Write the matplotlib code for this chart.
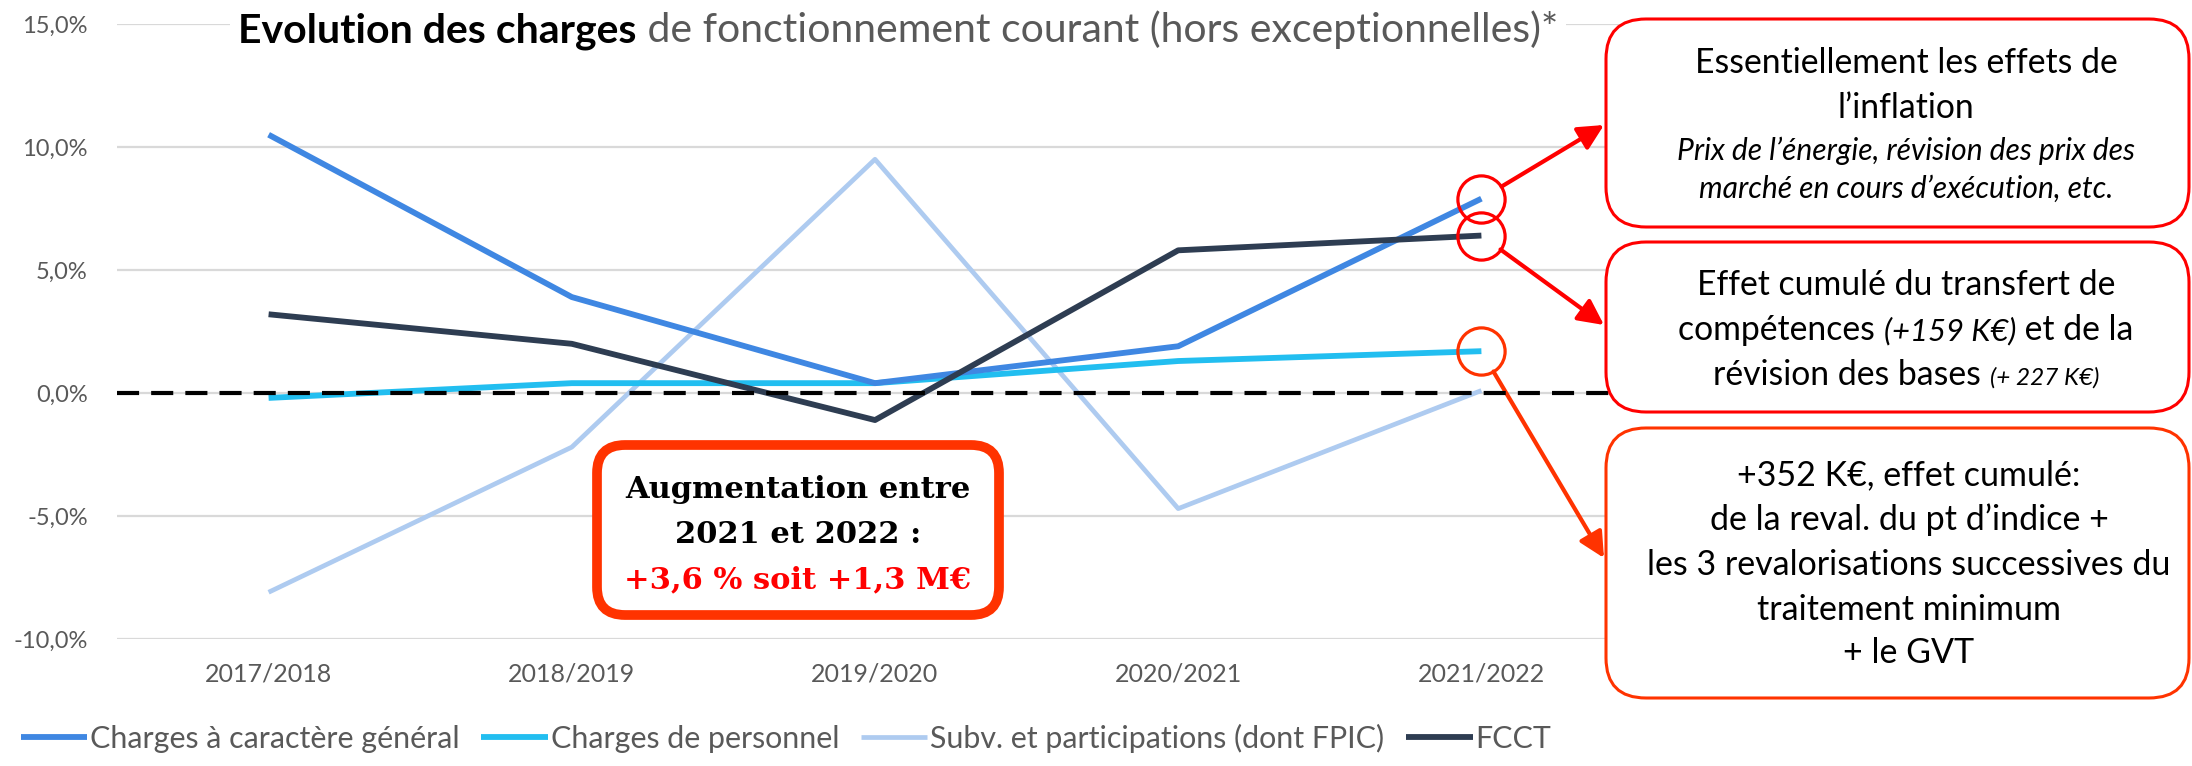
"""Evolution des charges de fonctionnement courant, with the three call-out boxes."""
import matplotlib

matplotlib.use("Agg")  # headless
import matplotlib.pyplot as plt
from matplotlib.patches import FancyBboxPatch, Rectangle
from matplotlib.ticker import FuncFormatter
from matplotlib.transforms import Bbox, IdentityTransform

W, H, DPI = 2192, 766, 100

# --- data (growth rate in %) ---
categories = ["2017/2018", "2018/2019", "2019/2020", "2020/2021", "2021/2022"]
charges_generales = [10.5, 3.9, 0.4, 1.9, 7.9]
charges_personnel = [-0.2, 0.4, 0.4, 1.3, 1.7]
subventions = [-8.1, -2.2, 9.5, -4.7, 0.1]
fcct = [3.2, 2.0, -1.1, 5.8, 6.4]
series_labels = [
    "Charges à caractère général",
    "Charges de personnel",
    "Subv. et participations (dont FPIC)",
    "FCCT",
]
y_ticks = [-10, -5, 0, 5, 10, 15]

title_bold = "Evolution des charges"
title_rest = " de fonctionnement courant (hors exceptionnelles)*"

box_total = ["Augmentation entre", "2021 et 2022 :", "+3,6 % soit +1,3 M€"]
box_inflation = [
    "Essentiellement les effets de",
    "l’inflation",
    "Prix de l’énergie, révision des prix des",
    "marché en cours d’exécution, etc.",
]
box_fcct = [
    "Effet cumulé du transfert de",
    ("compétences ", "(+159 K€)", " et de la"),
    ("révision des bases ", "(+ 227 K€)"),
]
box_personnel = [
    "+352 K€, effet cumulé:",
    "de la reval. du pt d’indice +",
    "les 3 revalorisations successives du",
    "traitement minimum",
    "+ le GVT",
]

COLORS = ["#3F87E2", "#22BEF0", "#AECBF0", "#2E3D52"]
RED = "#FF0000"
ORANGE = "#FF3300"
GREY = "#595959"
SANS = ["Lato", "DejaVu Sans"]
SERIF = ["DejaVu Serif"]


def fx(x):
    return x / W


def fy(y):
    return 1 - y / H


def rounded_box(fig, x0, y0, x1, y1, color, lw, radius):
    """Rounded rectangle given in image pixels (top-left origin)."""
    patch = FancyBboxPatch(
        (x0, H - y1), x1 - x0, y1 - y0,
        boxstyle=f"round,pad=0,rounding_size={radius}",
        transform=IdentityTransform(), facecolor="white", edgecolor=color,
        linewidth=lw, zorder=2,
    )
    fig.add_artist(patch)


def fit_size(fig, renderer, runs, target_px):
    """Scale factor for the runs' font sizes so that they span target_px."""
    total = 0.0
    for s, kw in runs:
        t = fig.text(0, 0, s, **kw)
        total += t.get_window_extent(renderer).width
        t.remove()
    return target_px / total


def text_line(fig, renderer, cx, y, runs):
    """Draw a line made of styled runs, centred on cx."""
    texts = [fig.text(0, fy(y), s, ha="left", va="baseline", zorder=4, **kw) for s, kw in runs]
    widths = [t.get_window_extent(renderer).width for t in texts]
    x = cx - sum(widths) / 2
    for t, w in zip(texts, widths):
        t.set_x(fx(x))
        x += w
    return texts


plt.rcParams["font.family"] = SANS
fig = plt.figure(figsize=(W / DPI, H / DPI), dpi=DPI)
ax = fig.add_axes([fx(117), fy(639), fx(1633) - fx(117), fy(24) - fy(639)])

xs = list(range(len(categories)))
all_series = [charges_generales, charges_personnel, subventions, fcct]
widths = [4.2, 4.2, 3.4, 4.2]
orders = [4, 3, 2, 5]
handles = []
for vals, col, lw, z, lab in zip(all_series, COLORS, widths, orders, series_labels):
    (h,) = ax.plot(xs, vals, color=col, lw=lw, zorder=z, label=lab, solid_capstyle="butt")
    handles.append(h)

ax.axhline(0, color="black", lw=3, ls=(0, (5.3, 2.9)), zorder=6)

ax.set_xlim(-0.5, 4.5)
ax.set_ylim(y_ticks[0], y_ticks[-1])
ax.set_yticks(y_ticks)
ax.yaxis.set_major_formatter(FuncFormatter(lambda v, _: f"{v:.1f}%".replace(".", ",")))
ax.set_xticks(xs)
ax.set_xticklabels(categories)
ax.tick_params(axis="y", length=0, pad=21, labelsize=17, labelcolor=GREY)
ax.tick_params(axis="x", length=0, pad=17, labelsize=18, labelcolor=GREY)
ax.yaxis.grid(True, color="#D9D9D9", lw=1.6)
ax.set_axisbelow(True)
for s in ax.spines.values():
    s.set_visible(False)

# circles on the last points
last = xs[-1]
for vals, col in [(charges_generales, RED), (fcct, RED), (charges_personnel, ORANGE)]:
    ax.plot(last, vals[-1], "o", ms=34, mfc="none", mec=col, mew=2.3, zorder=7, clip_on=False)

# arrows from the circles to the boxes
for vals, tip, col in [
    (charges_generales, (1604, 125), RED),
    (fcct, (1604, 325), RED),
    (charges_personnel, (1604, 558), ORANGE),
]:
    ax.annotate(
        "", xy=(tip[0], H - tip[1]), xycoords="figure pixels",
        xytext=(last, vals[-1]), textcoords="data", annotation_clip=False,
        arrowprops=dict(arrowstyle="-|>,head_length=0.7,head_width=0.35", color=col,
                        lw=3, shrinkA=17, shrinkB=0, mutation_scale=22),
    )

# boxes
rounded_box(fig, 597, 445, 999, 615, ORANGE, 7, 28)
rounded_box(fig, 1606, 19, 2189, 227, RED, 2.2, 40)
rounded_box(fig, 1606, 242, 2189, 412, RED, 2.2, 40)
rounded_box(fig, 1606, 428, 2189, 698, ORANGE, 2.2, 40)

renderer = fig.canvas.get_renderer()

# title, sitting on the top gridline (white patch breaks the gridline)
k = fit_size(fig, renderer, [(title_bold, dict(fontsize=10, fontweight="bold")),
                             (title_rest, dict(fontsize=10))], 1324) * 10
title_texts = text_line(fig, renderer, 898, 42, [
    (title_bold, dict(fontsize=k, fontweight="bold", color="black")),
    (title_rest, dict(fontsize=k, color=GREY)),
])
tb = Bbox.union([t.get_window_extent(renderer) for t in title_texts])
fig.add_artist(Rectangle((tb.x0 - 8, tb.y0 - 4), tb.width + 16, tb.height + 8,
                         transform=IdentityTransform(), facecolor="white",
                         edgecolor="none", zorder=3))

# centre box
k = fit_size(fig, renderer, [(box_total[0], dict(family=SERIF, fontsize=10, fontweight="bold"))], 345) * 10
serif_b = dict(family=SERIF, fontsize=k, fontweight="bold")
for line, y, col in zip(box_total, [498, 543, 588], ["black", "black", RED]):
    text_line(fig, renderer, 798, y, [(line, dict(color=col, **serif_b))])

# right-hand boxes
k_reg = fit_size(fig, renderer, [(box_inflation[0], dict(fontsize=10))], 423) * 10
k_ita = fit_size(fig, renderer, [(box_inflation[2], dict(fontsize=10, style="italic"))], 458) * 10
k_big = fit_size(fig, renderer, [(box_personnel[2], dict(fontsize=10))], 524) * 10
reg = dict(fontsize=k_reg, color="black")
ita = dict(fontsize=k_ita, color="black", style="italic")
big = dict(fontsize=k_big, color="black")

for line, y, kw in zip(box_inflation, [73, 118, 160, 198], [reg, reg, ita, ita]):
    text_line(fig, renderer, 1906, y, [(line, kw)])

text_line(fig, renderer, 1906, 295, [(box_fcct[0], reg)])
text_line(fig, renderer, 1906, 340, [
    (box_fcct[1][0], reg),
    (box_fcct[1][1], dict(fontsize=k_reg * 0.92, color="black", style="italic")),
    (box_fcct[1][2], reg),
])
text_line(fig, renderer, 1906, 385, [
    (box_fcct[2][0], reg),
    (box_fcct[2][1], dict(fontsize=k_reg * 0.72, color="black", style="italic")),
])

for line, y in zip(box_personnel, [485, 530, 575, 620, 663]):
    text_line(fig, renderer, 1909, y, [(line, big)])

# legend, scaled to the width it takes in the original
leg_kw = dict(loc="center", bbox_to_anchor=(fx(786), fy(738)), ncol=4, frameon=False,
              labelcolor=GREY, handlelength=2.2, handletextpad=0.1, columnspacing=0.7,
              borderpad=0)
leg = fig.legend(handles, series_labels, fontsize=20, **leg_kw)
k = 20 * 1532 / leg.get_window_extent(renderer).width
leg.remove()
fig.legend(handles, series_labels, fontsize=k, **leg_kw)

fig.savefig("out.png", dpi=DPI)
